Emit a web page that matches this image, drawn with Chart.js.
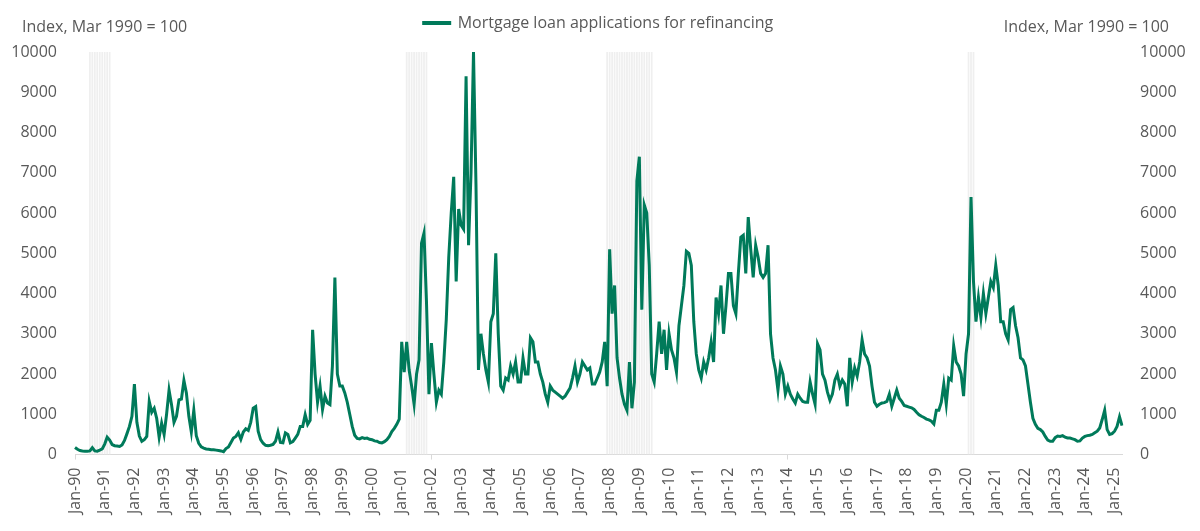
<!DOCTYPE html>
<html>
<head>
<meta charset="utf-8">
<script src="https://cdn.jsdelivr.net/npm/chart.js@4.4.1/dist/chart.umd.min.js"></script>
<style>
  html, body { margin: 0; padding: 0; background: #ffffff; }
  #wrap { width: 1200px; height: 531px; position: relative; }
</style>
</head>
<body>
<div id="wrap"><canvas id="c"></canvas></div>
<script>
// ---- Data (monthly, Jan 1990 – Apr 2025) ----
const startYear = 1990;
const monthNames = ['Jan','Feb','Mar','Apr','May','Jun','Jul','Aug','Sep','Oct','Nov','Dec'];

const refi1990s = [
  175,130,100,90,85,80,90,170,90,85,110,140,            // 1990
  260,430,360,250,220,210,200,240,350,520,700,950,      // 1991
  1750,800,460,330,370,450,1320,1050,1150,900,430,780,  // 1992
  500,1000,1600,1240,800,950,1360,1380,1840,1530,950,560, // 1993
  1100,470,280,190,160,140,130,120,120,110,100,90,      // 1994
  70,150,190,300,410,450,540,380,560,640,600,800,       // 1995
  1150,1190,580,370,280,230,220,230,250,330,560,300,    // 1996
  290,540,500,290,320,410,500,700,700,990,750,850,      // 1997
  3100,2000,1300,1700,1120,1450,1280,1240,2200,4400,2000,1700, // 1998
  1700,1530,1300,1000,700,480,400,390,420,400,410,380   // 1999
];
const refi2000s = [
  370,340,330,300,290,320,370,450,570,650,750,880,      // 2000
  2800,2050,2800,2100,1700,1250,2000,2350,5250,5500,3800,1500, // 2001
  2770,2000,1300,1600,1500,2300,3350,4900,6000,6900,4300,6100, // 2002
  5700,5600,9400,5200,7000,10000,6700,2100,3000,2500,2100,1800, // 2003
  3300,3500,5000,3000,1700,1600,1900,1850,2200,2000,2300,1800, // 2004
  1800,2400,2000,2000,2900,2800,2300,2300,2000,1800,1500,1300, // 2005
  1700,1600,1550,1500,1450,1400,1450,1550,1650,1900,2200,1800, // 2006
  2000,2300,2200,2100,2150,1750,1750,1900,2050,2300,2800,1700, // 2007
  5100,3500,4200,2400,1900,1500,1250,1100,2300,1150,1800,6800, // 2008
  7400,3600,6200,6000,4700,2000,1800,2500,3300,2500,3100,2100  // 2009
];
const refi2010s = [
  3000,2600,2400,2050,3200,3700,4200,5050,5000,4700,3300,2500, // 2010
  2100,1900,2300,2100,2400,2800,2300,3900,3500,4200,3000,3700, // 2011
  4500,4500,3700,3500,4500,5400,5450,4500,5900,5100,4400,5200, // 2012
  4900,4500,4400,4500,5200,3000,2400,2100,1600,2200,2000,1500, // 2013
  1700,1500,1380,1280,1500,1400,1320,1300,1300,1800,1500,1250, // 2014
  2750,2600,2000,1850,1550,1350,1500,1850,2000,1700,1850,1750, // 2015
  1200,2400,1800,2150,1950,2300,2850,2500,2400,2200,1700,1300, // 2016
  1200,1250,1280,1290,1320,1500,1200,1400,1600,1400,1320,1220, // 2017
  1200,1180,1160,1120,1050,990,950,920,880,860,830,760,        // 2018
  1100,1100,1300,1750,1250,1900,1850,2700,2300,2200,2000,1450  // 2019
];
const refi2020s = [
  2500,3000,6400,4300,3300,3900,3400,4000,3500,3900,4300,4150, // 2020
  4700,4200,3300,3300,3000,2850,3600,3650,3200,2900,2400,2350, // 2021
  2200,1750,1300,900,750,650,620,560,450,360,330,330,          // 2022
  420,460,450,470,430,410,410,390,370,330,340,410,             // 2023
  450,470,480,500,540,580,660,870,1100,620,500,520,            // 2024
  580,700,940,720                                              // 2025
];

// US recessions (shaded), first and last month
const recessions = [
  ['1990-07', '1991-03'],
  ['2001-03', '2001-11'],
  ['2007-12', '2009-06'],
  ['2020-02', '2020-04']
];

const seriesName = 'Mortgage loan applications for refinancing';
const axisTitle = 'Index, Mar 1990 = 100';
const yTicks = [0,1000,2000,3000,4000,5000,6000,7000,8000,9000,10000];

// ---- Build chart inputs from the arrays ----
const refiValues = [].concat(refi1990s, refi2000s, refi2010s, refi2020s);
const months = refiValues.map((v, i) => {
  const y = startYear + Math.floor(i / 12);
  const m = (i % 12) + 1;
  return y + '-' + String(m).padStart(2, '0');
});
const shadeValues = months.map(k =>
  recessions.some(r => k >= r[0] && k <= r[1]) ? yTicks[yTicks.length - 1] : null
);

const green = '#007A5A';
const grey = '#595959';
const fontFamily = '"Open Sans", "Noto Sans", sans-serif';

const axisTitles = {
  id: 'axisTitles',
  afterDraw(chart) {
    const { ctx, chartArea } = chart;
    ctx.save();
    ctx.font = '16px ' + fontFamily;
    ctx.fillStyle = grey;
    ctx.textBaseline = 'middle';
    ctx.textAlign = 'left';
    ctx.fillText(axisTitle, chartArea.left - 53, chartArea.top - 25);
    ctx.textAlign = 'right';
    ctx.fillText(axisTitle, chartArea.right + 47, chartArea.top - 25);
    ctx.restore();
  }
};

// extra room between legend and plot (for the axis titles row)
const legendGap = {
  id: 'legendGap',
  beforeInit(chart) {
    const origFit = chart.legend.fit;
    chart.legend.fit = function () {
      origFit.bind(chart.legend)();
      this.height += 11;
    };
  }
};

const janTick = (ctx) => {
  const lab = months[ctx.index];
  return lab && lab.endsWith('-01') ? '#d9d9d9' : 'rgba(0,0,0,0)';
};

new Chart(document.getElementById('c'), {
  type: 'line',
  data: {
    labels: months,
    datasets: [
      {
        label: seriesName,
        data: refiValues,
        borderColor: green,
        backgroundColor: green,
        borderWidth: 3,
        pointRadius: 0,
        tension: 0,
        order: 1,
        yAxisID: 'y'
      },
      {
        type: 'bar',
        label: 'Recession',
        data: shadeValues,
        backgroundColor: '#efefef',
        borderWidth: 0,
        barPercentage: 0.7,
        categoryPercentage: 1.0,
        order: 2,
        yAxisID: 'y'
      }
    ]
  },
  options: {
    responsive: true,
    maintainAspectRatio: false,
    animation: false,
    layout: { padding: { left: 11, right: 14, top: 5, bottom: 9 } },
    plugins: {
      legend: {
        position: 'top',
        labels: {
          filter: (item) => item.datasetIndex === 0,
          boxWidth: 26,
          boxHeight: 1,
          padding: 10,
          color: grey,
          font: { family: fontFamily, size: 16 }
        }
      },
      tooltip: { enabled: false }
    },
    scales: {
      x: {
        type: 'category',
        offset: false,
        grid: {
          display: true,
          offset: false,
          drawOnChartArea: false,
          drawTicks: true,
          tickLength: 5,
          color: janTick,
          tickColor: janTick
        },
        border: { display: true, color: '#d9d9d9', width: 1 },
        ticks: {
          autoSkip: false,
          minRotation: 90,
          maxRotation: 90,
          padding: 8,
          color: grey,
          font: { family: fontFamily, size: 16 },
          callback: function (value, index) {
            const lab = months[index];
            if (!lab.endsWith('-01')) return null;
            return monthNames[0] + '-' + lab.slice(2, 4);
          }
        }
      },
      y: {
        position: 'left',
        min: yTicks[0],
        max: yTicks[yTicks.length - 1],
        grid: { display: false, drawTicks: false },
        border: { display: false },
        afterBuildTicks: (axis) => { axis.ticks = yTicks.map(v => ({ value: v })); },
        afterFit: (axis) => { axis.width = 64; },
        ticks: {
          padding: 18,
          crossAlign: 'near',
          color: grey,
          font: { family: fontFamily, size: 16 },
          callback: (v) => String(v)
        }
      },
      y2: {
        position: 'right',
        min: yTicks[0],
        max: yTicks[yTicks.length - 1],
        grid: { display: false, drawTicks: false },
        border: { display: false },
        afterBuildTicks: (axis) => { axis.ticks = yTicks.map(v => ({ value: v })); },
        afterFit: (axis) => { axis.width = 64; },
        ticks: {
          padding: 18,
          crossAlign: 'near',
          color: grey,
          font: { family: fontFamily, size: 16 },
          callback: (v) => String(v)
        }
      }
    }
  },
  plugins: [axisTitles, legendGap]
});
</script>
</body>
</html>
